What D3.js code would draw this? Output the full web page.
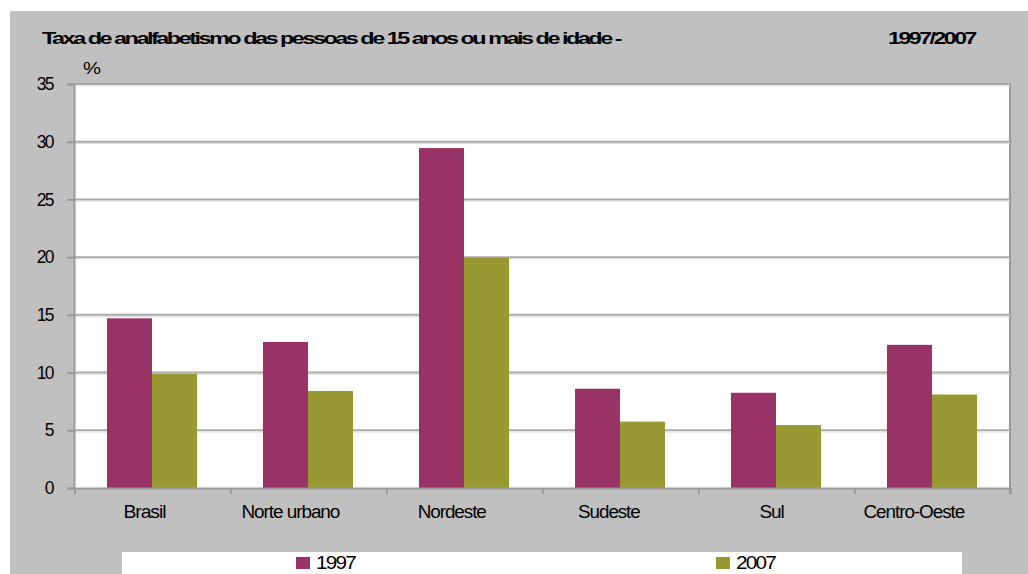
<!DOCTYPE html>
<html><head><meta charset="utf-8">
<script src="https://cdn.jsdelivr.net/npm/d3@7"></script>
<style>
html,body{margin:0;padding:0;background:#fff;}
svg{display:block;}
text{font-family:"Liberation Sans",Arial,sans-serif;fill:#000;}
</style></head>
<body>
<svg id="c" width="1028" height="574"></svg>
<script>
const categories = ["Brasil","Norte urbano","Nordeste","Sudeste","Sul","Centro-Oeste"];
const seriesNames = ["1997","2007"];
const values1997 = [14.7, 12.65, 29.45, 8.6, 8.25, 12.4];
const values2007 = [9.9, 8.4, 19.95, 5.75, 5.45, 8.1];
const yTicks = [0,5,10,15,20,25,30,35];
const colors = ["#993366","#999933"];

const svg = d3.select("#c");
// background
svg.append("rect").attr("x",10).attr("y",11).attr("width",1018).attr("height",563).attr("fill","#c0c0c0");

const L=74, R=1010, T=84, B=488;
const x0 = d3.scaleBand().domain(categories).range([L,R]).padding(0);
const x1 = d3.scaleBand().domain(seriesNames).range([0,x0.bandwidth()]).paddingInner(0).paddingOuter(0.733);
const y = d3.scaleLinear().domain([0,35]).range([B,T]);

// plot area
svg.append("rect").attr("x",L).attr("y",T).attr("width",R-L).attr("height",B-T).attr("fill","#fff");
// right shadow
svg.append("line").attr("x1",R).attr("x2",R).attr("y1",T-1).attr("y2",B+6).attr("stroke","#999").attr("stroke-width",2);

// gridlines
const g = svg.append("g");
g.selectAll("line.grid").data(yTicks.filter(d=>d>0)).enter().append("line")
  .attr("x1",L).attr("x2",R).attr("y1",d=>y(d)).attr("y2",d=>y(d))
  .attr("stroke","#aaaaaa").attr("stroke-width",2);
g.selectAll("line.grid2").data(yTicks.filter(d=>d>0)).enter().append("line")
  .attr("x1",L).attr("x2",R).attr("y1",d=>y(d)+1.8).attr("y2",d=>y(d)+1.8)
  .attr("stroke","#dcdcdc").attr("stroke-width",1);

// bars
const data = categories.map((c,i)=>({c, v:[values1997[i],values2007[i]]}));
const grp = svg.append("g").selectAll("g").data(data).enter().append("g")
  .attr("transform",d=>`translate(${x0(d.c)},0)`);
grp.selectAll("rect").data(d=>d.v.map((v,j)=>({s:seriesNames[j],v,j}))).enter().append("rect")
  .attr("x",d=>x1(d.s)).attr("width",x1.bandwidth())
  .attr("y",d=>y(d.v)).attr("height",d=>B-y(d.v)).attr("fill",d=>colors[d.j]);

// y axis
const yAxis = d3.axisLeft(y).tickValues(yTicks).tickSize(7).tickPadding(12).tickFormat(d3.format("d"));
const ya = svg.append("g").attr("transform",`translate(${L},0)`).call(yAxis);
ya.select(".domain").attr("stroke","#999").attr("stroke-width",2);
ya.selectAll(".tick line").attr("stroke","#999").attr("stroke-width",2);
ya.selectAll(".tick text").attr("font-size","17.5px").attr("letter-spacing","-1.6px")
  .attr("font-family","'Liberation Sans',Arial,sans-serif").attr("fill","#000").attr("dx","-2");

// x axis
const xAxis = d3.axisBottom(x0).tickSize(0).tickFormat("");
const xa = svg.append("g").attr("transform",`translate(0,${B})`).call(xAxis);
xa.select(".domain").attr("stroke","#999").attr("stroke-width",2);
xa.selectAll(".tick").remove();
const edges = categories.map(c=>x0(c)).concat([R]);
xa.selectAll("line.edge").data(edges).enter().append("line")
  .attr("x1",d=>d+1).attr("x2",d=>d+1).attr("y1",0).attr("y2",6).attr("stroke","#999").attr("stroke-width",2);

// category labels
svg.append("g").selectAll("text").data(categories).enter().append("text")
  .attr("y",518).attr("font-size","16.8px")
  .text(d=>d)
  .each(function(d){
    const el=d3.select(this);
    const w=this.getComputedTextLength();
    const c=x0(d)+x0.bandwidth()/2;
    el.attr("x",c-0.68*w).attr("font-size","18px").attr("letter-spacing","-1px")
      .attr("textLength",w).attr("lengthAdjust","spacingAndGlyphs");
  });

// top border
svg.append("line").attr("x1",L).attr("x2",R).attr("y1",T).attr("y2",T).attr("stroke","#a8a8a8").attr("stroke-width",2);

// title
svg.append("text").attr("x",42).attr("y",44).attr("font-weight","bold").attr("font-size","17px")
  .attr("letter-spacing","-1.8px").attr("textLength",578).attr("lengthAdjust","spacingAndGlyphs")
  .text("Taxa de analfabetismo das pessoas de 15 anos ou mais de idade -");
svg.append("text").attr("x",888).attr("y",44).attr("font-weight","bold").attr("font-size","17px")
  .attr("letter-spacing","-1.8px").attr("textLength",87).attr("lengthAdjust","spacingAndGlyphs")
  .text("1997/2007");
svg.append("text").attr("x",83).attr("y",74).attr("font-size","17px")
  .attr("textLength",18).attr("lengthAdjust","spacingAndGlyphs").text("%");

// legend
svg.append("rect").attr("x",122).attr("y",552).attr("width",840).attr("height",22).attr("fill","#fff");
const legX = [296, 716];
const lg = svg.append("g").selectAll("g").data(seriesNames).enter().append("g")
  .attr("transform",(d,i)=>`translate(${legX[i]},0)`);
lg.append("rect").attr("x",0).attr("y",557).attr("width",14).attr("height",12).attr("fill",(d,i)=>colors[i]);
lg.append("text").attr("x",20).attr("y",569).attr("font-size","17.5px").attr("letter-spacing","-1.5px")
  .attr("textLength",39).attr("lengthAdjust","spacingAndGlyphs").text(d=>d);
</script>
</body></html>
